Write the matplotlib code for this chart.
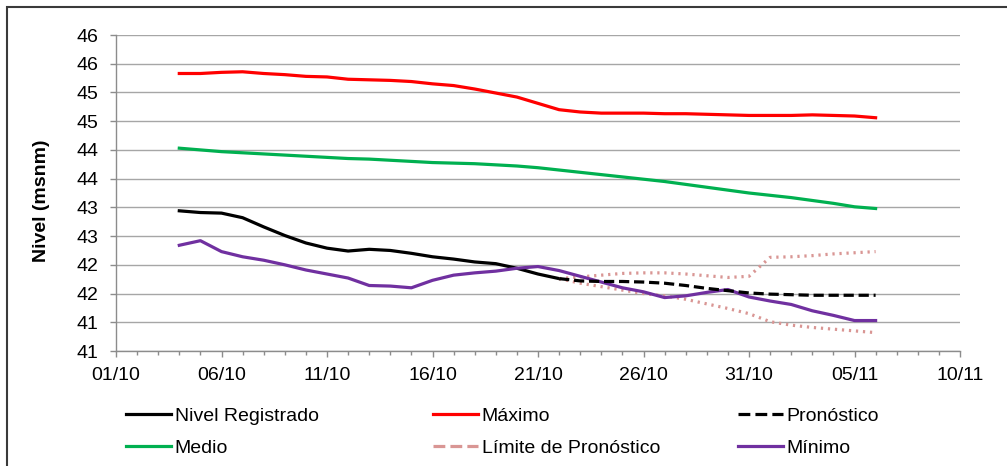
import numpy as np
import pandas as pd
import matplotlib
matplotlib.use("Agg")
import matplotlib.pyplot as plt
import matplotlib.dates as mdates
from matplotlib.ticker import FuncFormatter, MultipleLocator, FixedLocator
from matplotlib.lines import Line2D
from matplotlib.patches import Rectangle

plt.rcParams['font.family'] = ['Liberation Sans', 'DejaVu Sans']

# Daily values 04/10 -> 06/11
dates = pd.date_range('2015-10-04', '2015-11-06', freq='D')

maximo = [45.33, 45.33, 45.35, 45.36, 45.33, 45.31, 45.28, 45.27, 45.23, 45.22,
          45.21, 45.19, 45.15, 45.12, 45.06, 44.99, 44.92, 44.81, 44.70, 44.66,
          44.64, 44.64, 44.64, 44.63, 44.63, 44.62, 44.61, 44.60, 44.60, 44.60,
          44.61, 44.60, 44.59, 44.56]

medio = [44.03, 44.00, 43.97, 43.95, 43.93, 43.91, 43.89, 43.87, 43.85, 43.84,
         43.82, 43.80, 43.78, 43.77, 43.76, 43.74, 43.72, 43.69, 43.65, 43.61,
         43.57, 43.53, 43.49, 43.45, 43.40, 43.35, 43.30, 43.25, 43.21, 43.17,
         43.12, 43.07, 43.01, 42.98]

minimo = [42.34, 42.42, 42.23, 42.14, 42.08, 42.00, 41.91, 41.84, 41.77, 41.64,
          41.63, 41.60, 41.73, 41.82, 41.86, 41.89, 41.94, 41.97, 41.90, 41.80,
          41.70, 41.60, 41.53, 41.43, 41.46, 41.52, 41.57, 41.44, 41.37, 41.31,
          41.20, 41.12, 41.03, 41.03]

# registered level 04/10 -> 22/10
registrado = [42.94, 42.91, 42.90, 42.82, 42.66, 42.51, 42.38, 42.29, 42.24, 42.27,
              42.25, 42.20, 42.14, 42.10, 42.05, 42.02, 41.94, 41.84, 41.76]

# forecast 22/10 -> 06/11
pronostico = [41.76, 41.72, 41.71, 41.71, 41.70, 41.68, 41.64, 41.59, 41.55, 41.51,
              41.49, 41.48, 41.47, 41.47, 41.47, 41.47]
limite_sup = [41.76, 41.79, 41.82, 41.85, 41.86, 41.86, 41.84, 41.81, 41.78, 41.80,
              42.13, 42.14, 42.16, 42.19, 42.21, 42.23]
limite_inf = [41.76, 41.68, 41.62, 41.56, 41.50, 41.46, 41.40, 41.32, 41.24, 41.15,
              41.01, 40.95, 40.91, 40.88, 40.85, 40.82]

fc_dates = dates[len(registrado) - 1:]

W, H = 1007, 466
fig = plt.figure(figsize=(W / 100, H / 100), dpi=100)
ax = fig.add_axes([116 / W, (H - 351) / H, 844 / W, 316 / H])

# outer chart border
fig.patches.append(Rectangle((7 / W, -0.1), 1.2, (H - 7) / H + 0.1, transform=fig.transFigure,
                             fill=False, edgecolor='#3a3a3a', linewidth=1.5))

lw = 2.3
dots = (0, (0.7, 1.5))
ax.plot(dates[:len(registrado)], registrado, color='black', lw=lw, label='Nivel Registrado')
ax.plot(dates, maximo, color='#FF0000', lw=lw, label='Máximo')
ax.plot(fc_dates, limite_sup, color='#D99694', lw=lw, ls=dots, dash_capstyle='butt',
        label='Límite de Pronóstico')
ax.plot(fc_dates, limite_inf, color='#D99694', lw=lw, ls=dots, dash_capstyle='butt')
ax.plot(dates, medio, color='#00B050', lw=lw, label='Medio')
ax.plot(dates, minimo, color='#7030A0', lw=lw, label='Mínimo')
ax.plot(fc_dates, pronostico, color='black', lw=lw, ls=(0, (3.2, 1.5)), label='Pronóstico')

ax.set_xlim(pd.Timestamp('2015-10-01'), pd.Timestamp('2015-11-10'))
ax.set_ylim(40.5, 46.0)

ax.yaxis.set_major_locator(MultipleLocator(0.5))
ax.yaxis.set_major_formatter(FuncFormatter(lambda v, p: f"{int(np.floor(v + 0.5 + 1e-9))}"))
major = pd.date_range('2015-10-01', '2015-11-10', freq='5D')
ax.xaxis.set_major_locator(FixedLocator(mdates.date2num(major)))
ax.xaxis.set_minor_locator(mdates.DayLocator())
ax.xaxis.set_major_formatter(mdates.DateFormatter('%d/%m'))

ax.grid(axis='y', color='#A6A6A6', lw=1.0)
ax.set_axisbelow(True)
for s in ['top', 'right']:
    ax.spines[s].set_visible(False)
for s in ['left', 'bottom']:
    ax.spines[s].set_color('#8C8C8C')
    ax.spines[s].set_linewidth(1.0)

ax.tick_params(axis='y', length=4, width=1, color='#8C8C8C', pad=8.5, labelsize=14)
ax.tick_params(axis='x', which='major', length=4.5, width=1, color='#8C8C8C', pad=7, labelsize=14)
ax.tick_params(axis='x', which='minor', length=3, width=1, color='#8C8C8C')

fig.text(42 / W, (H - 201) / H, 'Nivel (msnm)', rotation=90, ha='center', va='center',
         fontsize=14, fontweight='bold')

h = {l.get_label(): l for l in ax.get_lines()}
cols = [(126, ['Nivel Registrado', 'Medio']),
        (433, ['Máximo', 'Límite de Pronóstico']),
        (738, ['Pronóstico', 'Mínimo'])]
for xpx, names in cols:
    handles = [Line2D([], [], color=h[n].get_color(), lw=lw, ls=h[n].get_linestyle(),
                      dash_capstyle='butt') for n in names]
    fig.legend(handles, names, loc='center left', bbox_to_anchor=(xpx / W, (H - 432) / H),
               frameon=False, fontsize=14, borderpad=0, borderaxespad=0,
               handlelength=2.3, handletextpad=0.2, labelspacing=0.75)

fig.savefig('out.png', dpi=100)
